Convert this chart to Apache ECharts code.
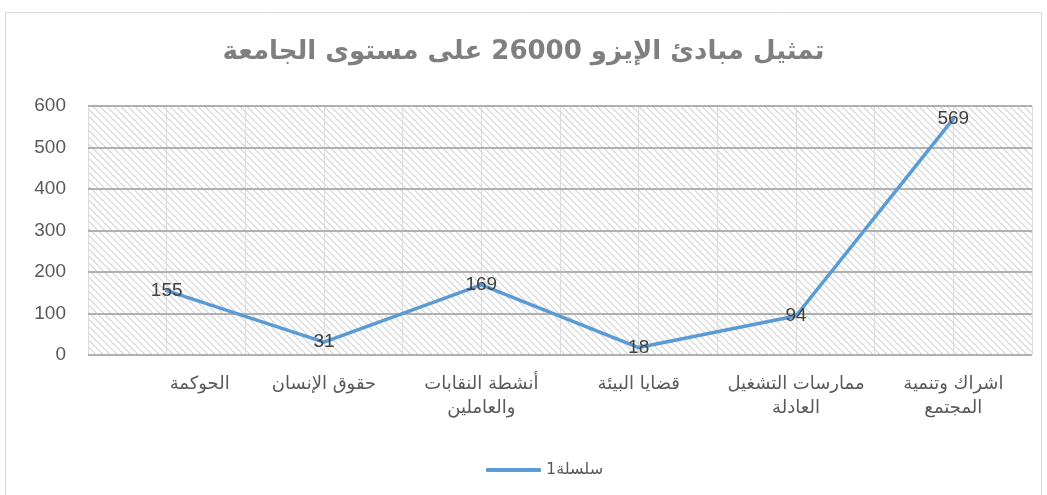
<!DOCTYPE html>
<html>
<head>
<meta charset="utf-8">
<script src="https://cdn.jsdelivr.net/npm/echarts@6/dist/echarts.min.js"></script>
<style>
  html, body { margin: 0; padding: 0; background: #fff; }
  #chart { width: 1047px; height: 495px; }
</style>
</head>
<body>
<div id="chart"></div>
<script>
const categories = [
  'الحوكمة',
  'حقوق الإنسان',
  'أنشطة النقابات\nوالعاملين',
  'قضايا البيئة',
  'ممارسات التشغيل\nالعادلة',
  'اشراك وتنمية\nالمجتمع'
]
const values = [155, 31, 169, 18, 94, 569]
const seriesName = 'سلسلة1'
const titleText = 'تمثيل مبادئ الإيزو 26000 على مستوى الجامعة'

// diagonal hatch for the plot area
const makeHatch = () => {
  const c = document.createElement('canvas')
  c.width = 7
  c.height = 7
  const ctx = c.getContext('2d')
  ctx.fillStyle = '#ffffff'
  ctx.fillRect(0, 0, 7, 7)
  ctx.fillStyle = '#dedede'
  for (let y = 0; y < 7; y++) {
    for (let x = 0; x < 7; x++) {
      const d = (x - y + 14) % 7
      if (d === 0 || d === 1) ctx.fillRect(x, y, 1, 1)
    }
  }
  return c
}

const chart = echarts.init(document.getElementById('chart'))

const labelFont = "'Liberation Sans', 'DejaVu Sans', sans-serif"
const arabicFont = "'DejaVu Sans', sans-serif"

chart.setOption({
  animation: false,
  title: {
    text: titleText,
    left: 'center',
    top: 34,
    textStyle: {
      fontFamily: arabicFont,
      fontSize: 26,
      fontWeight: 'bold',
      color: '#7f7f7f'
    }
  },
  graphic: [
    {
      type: 'rect',
      shape: { x: 5.5, y: 12.5, width: 1036, height: 500 },
      style: { fill: 'none', stroke: '#d9d9d9', lineWidth: 1 },
      silent: true,
      z: -10
    }
  ],
  legend: {
    top: 457,
    left: 481,
    itemWidth: 55,
    itemHeight: 4,
    itemGap: 6,
    icon: 'roundRect',
    textStyle: { fontSize: 16, color: '#595959', fontFamily: arabicFont },
    data: [seriesName]
  },
  grid: {
    left: 88,
    right: 15,
    top: 106,
    bottom: 140,
    show: true,
    borderWidth: 0,
    backgroundColor: { image: makeHatch(), repeat: 'repeat' }
  },
  xAxis: [
    {
      type: 'category',
      data: categories,
      boundaryGap: true,
      axisLine: { show: false },
      axisTick: { show: false },
      splitLine: { show: false },
      axisLabel: {
        margin: 17,
        fontSize: 18,
        lineHeight: 24,
        color: '#595959',
        fontFamily: arabicFont,
        interval: 0,
        // the first label sits right of its point in the original
        formatter: (value, index) => index === 0 ? '{shift|' + value + '}' : value,
        rich: {
          shift: {
            fontSize: 18,
            color: '#595959',
            fontFamily: arabicFont,
            padding: [0, 0, 0, 66]
          }
        }
      }
    },
    {
      type: 'value',
      min: 0,
      max: 12,
      interval: 1,
      position: 'bottom',
      axisLine: { show: false },
      axisTick: { show: false },
      axisLabel: { show: false },
      splitLine: { show: true, lineStyle: { color: '#dcdcdc', width: 1 } }
    }
  ],
  yAxis: {
    type: 'value',
    min: 0,
    max: 600,
    interval: 100,
    axisLine: { show: false },
    axisTick: { show: false },
    axisLabel: {
      margin: 22,
      fontSize: 19,
      color: '#595959',
      fontFamily: labelFont
    },
    splitLine: { show: true, lineStyle: { color: '#b0b0b0', width: 2 } },
    z: 3
  },
  series: [
    {
      name: seriesName,
      type: 'line',
      xAxisIndex: 0,
      data: values,
      symbol: 'circle',
      symbolSize: 1,
      itemStyle: { color: '#5b9bd5' },
      lineStyle: { color: '#5b9bd5', width: 3.5, cap: 'round', join: 'round' },
      label: {
        show: true,
        position: 'inside',
        fontSize: 19,
        color: '#404040',
        fontFamily: labelFont
      },
      z: 5
    }
  ]
})
</script>
</body>
</html>
